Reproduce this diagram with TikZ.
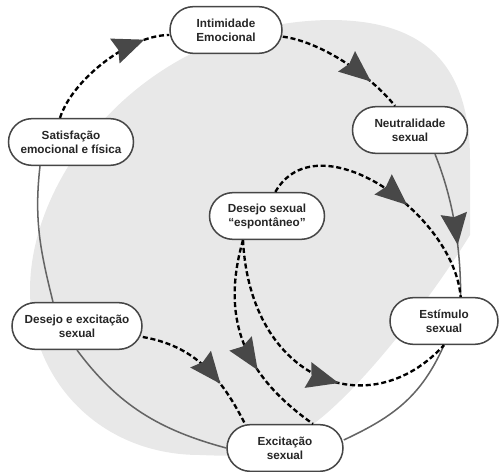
\documentclass[tikz,border=0pt]{standalone}
\usepackage{fontspec}
\setmainfont{Liberation Sans}
\usepackage{tikz}
\usetikzlibrary{
    arrows.meta,
    decorations.markings
}
\definecolor{blobgray}{RGB}{232,232,232}
\definecolor{framegray}{RGB}{70,70,70}
\definecolor{cyclegray}{RGB}{100,100,100}
\definecolor{tipgray}{RGB}{72,72,72}
\tikzstyle{stage} = [
    rectangle,
    rounded corners=0.7cm,
    draw=framegray,
    line width=1.3pt,
    fill=white,
    minimum height=1.4cm,
    inner sep=2pt,
    align=center,
    text=black!85,
    font=\fontsize{10}{12}\selectfont\bfseries
]
\tikzstyle{dashlink} = [
    black,
    line width=2pt,
    dash pattern=on 4.3pt off 2.4pt
]
\tikzstyle{cyclelink} = [
    cyclegray,
    line width=1.3pt
]
% big grey arrow head placed along a link
\tikzset{midtip/.style={postaction={decorate}, decoration={markings,
    mark=at position #1 with {\fill[tipgray] (0.1cm,0) -- (-0.85cm,0.4cm) -- (-0.74cm,0) -- (-0.85cm,-0.4cm) -- cycle;}}}}

\begin{document}
\begin{tikzpicture}[x=0.03cm, y=-0.03cm]
    \useasboundingbox (0,0) rectangle (499,472);

    % Background blob
    \fill[blobgray] (470,235) .. controls (430,300) and (360,390) .. (312,425)
        .. controls (285,457) and (250,457) .. (200,455)
        .. controls (100,455) and (30,380) .. (30,290)
        .. controls (30,170) and (150,22) .. (330,20)
        .. controls (420,20) and (470,60) .. (470,160) -- cycle;

    % Stages of the cycle
    \node[stage, minimum width=3.36cm] (int) at (226,30) {Intimidade\\Emocional};
    \node[stage, minimum width=3.45cm] (neu) at (410,130) {Neutralidade\\sexual};
    \node[stage, minimum width=3.75cm] (sat) at (71,142) {Satisfação\\emocional e física};
    \node[stage, minimum width=3.45cm] (esp) at (267,216) {Desejo sexual\\“espontâneo”};
    \node[stage, minimum width=3.9cm] (dex) at (77,326) {Desejo e excitação\\sexual};
    \node[stage, minimum width=3.24cm] (est) at (444,321) {Estímulo\\sexual};
    \node[stage, minimum width=3.48cm] (exc) at (285,448) {Excitação\\sexual};

    % Outer cycle, solid part
    \draw[cyclelink, midtip=0.62] ([xshift=0.75cm]neu.south) .. controls +(12,30) and +(0,-67) .. ([xshift=0.5cm]est.north);
    \draw[cyclelink] (est.south) .. controls +(-23,52) and +(49,-23) .. ([yshift=0.24cm]exc.east);
    \draw[cyclelink] (exc.west) .. controls +(-67,-18) and +(41,55) .. (dex.south);
    \draw[cyclelink] ([xshift=-0.72cm]dex.north) .. controls +(-13,-52) and +(-6,53) .. ([xshift=-0.93cm]sat.south);

    % Dashed links
    \draw[dashlink, midtip=0.8] ([xshift=-0.33cm]sat.north) .. controls +(12,-38) and +(-40,0) .. ([yshift=-0.15cm]int.west);
    \draw[dashlink, midtip=0.72] ([yshift=-0.2cm]int.east) .. controls +(38,5) and +(-25,-31) .. ([xshift=-0.45cm]neu.north);
    \draw[dashlink, midtip=0.57] ([xshift=0.25cm]esp.north) .. controls +(42,-73) and +(-7,-84) .. ([xshift=0.5cm]est.north);
    \draw[dashlink, midtip=0.6] ([xshift=-0.72cm]esp.south) .. controls +(7,140) and +(-75,82) .. (est.south);
    \draw[dashlink, midtip=0.62] ([xshift=-0.72cm]esp.south) .. controls +(-23,80) and +(-68,-48) .. ([xshift=0.84cm]exc.north);
    \draw[dashlink, midtip=0.64] ([yshift=-0.33cm]dex.east) .. controls +(52,9) and +(-24,-47) .. ([xshift=-1.2cm]exc.north);
\end{tikzpicture}
\end{document}
